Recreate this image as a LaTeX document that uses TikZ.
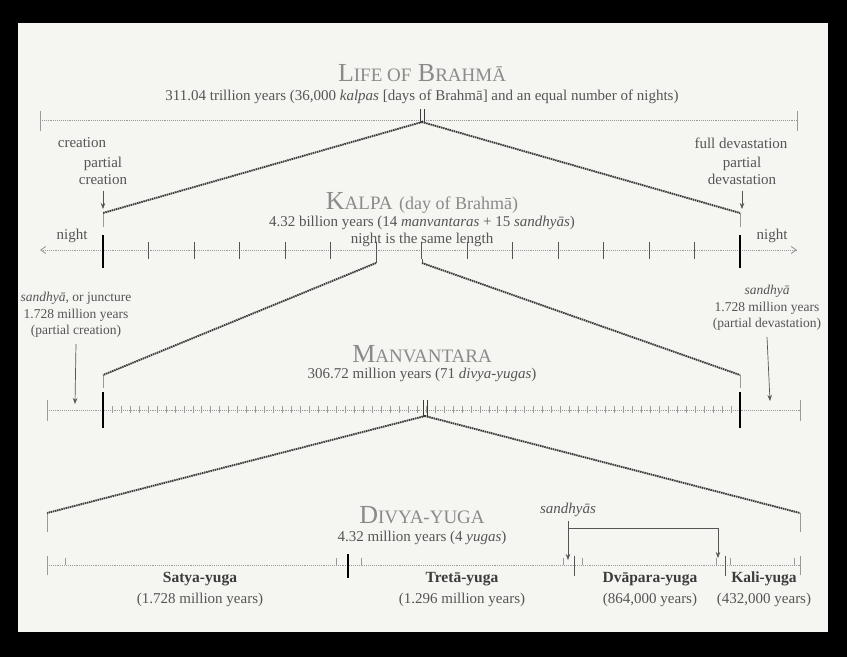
\documentclass[tikz,border=0pt]{standalone}
\usepackage{fontspec}
\setmainfont{Liberation Serif}
\usetikzlibrary{arrows.meta}
\definecolor{page}{HTML}{F5F5F2}
\definecolor{ink}{HTML}{555555}
\definecolor{ttlgray}{HTML}{8A8A8A}
\definecolor{axgray}{HTML}{9A9A9A}
\definecolor{brkgray}{HTML}{3C3C3C}
\newcommand{\lowcap}[1]{{\fontsize{19}{19}\selectfont #1}}
\begin{document}
\begin{tikzpicture}[x=1pt,y=-1pt,
    lbl/.style={text=ink,font=\fontsize{15}{16.5}\selectfont,inner sep=0pt},
    side/.style={text=ink,font=\fontsize{13.5}{16.5}\selectfont,inner sep=0pt,align=center},
    yuga/.style={text=brkgray,font=\fontsize{15.5}{17}\selectfont\bfseries,inner sep=0pt},
    ttl/.style={text=ttlgray,font=\fontsize{26}{27}\selectfont,inner sep=0pt},
    axis/.style={draw=axgray,line width=0.9pt,densely dotted},
    brk/.style={draw=brkgray,line width=1.9pt,dash pattern=on 1.5pt off 0.7pt},
    bar/.style={draw=black,line width=2.6pt},
    tk/.style={draw=axgray,line width=0.9pt},
    pnt/.style={draw=ink,line width=0.7pt,-{Stealth[length=6pt,width=4.5pt]}}]
  \fill[black] (0,0) rectangle (847,657);
  \fill[page] (18,23) rectangle (828,632);

  \draw
    (422,73) node[ttl] (life) {L\lowcap{IFE OF} B\lowcap{RAHMĀ}}
    (422,97) node[lbl] (lifenum) {311.04 trillion years (36,000 \emph{kalpas} [days of Brahmā] and an equal number of nights)}
    (82,143) node[lbl] (creat) {creation}
    (741,143) node[lbl] (fulldev) {full devastation}
    (103,171) node[lbl,align=center] (pcre) {partial\\creation}
    (742,171) node[lbl,align=center] (pdev) {partial\\devastation}
    (422,203) node[ttl] (kalpa) {K\lowcap{ALPA} {\fontsize{18}{18}\selectfont(day of Brahmā)}}
    (422,223) node[lbl] (kalpanum) {4.32 billion years (14 \emph{manvantaras} + 15 \emph{sandhyās})}
    (422,240) node[lbl] (kalpanight) {night is the same length}
    (72,236) node[lbl] (nightl) {night}
    (772,236) node[lbl] (nightr) {night}
    (76,315) node[side] (sandl) {\emph{sandhyā}, or juncture\\1.728 million years\\(partial creation)}
    (767,308) node[side] (sandr) {\emph{sandhyā}\\1.728 million years\\(partial devastation)}
    (422,354) node[ttl] (manv) {M\lowcap{ANVANTARA}}
    (422,375) node[lbl] (manvnum) {306.72 million years (71 \emph{divya-yugas})}
    (422,515) node[ttl] (divya) {D\lowcap{IVYA-YUGA}}
    (422,538) node[lbl] (divyanum) {4.32 million years (4 \emph{yugas})}
    (568,510) node[lbl] (sandy) {\emph{sandhyās}}
    (200,579) node[yuga] (satya) {Satya-yuga}
    (200,600) node[lbl] (satyanum) {(1.728 million years)}
    (462,579) node[yuga] (treta) {Tretā-yuga}
    (462,600) node[lbl] (tretanum) {(1.296 million years)}
    (650,579) node[yuga] (dvapara) {Dvāpara-yuga}
    (650,600) node[lbl] (dvaparanum) {(864,000 years)}
    (764,579) node[yuga] (kali) {Kali-yuga}
    (764,600) node[lbl] (kalinum) {(432,000 years)};

  \coordinate (lifeL) at (40,120);
  \coordinate (lifeR) at (797,120);
  \coordinate (lifeM) at (422,122);
  \coordinate (kalL) at (103,213);
  \coordinate (kalR) at (740,213);
  \coordinate (kalA) at (40,250);
  \coordinate (kalB) at (797,250);
  \coordinate (kalM1) at (376,263);
  \coordinate (kalM2) at (422,263);
  \coordinate (manL) at (103,375);
  \coordinate (manR) at (740,375);
  \coordinate (manA) at (47,410);
  \coordinate (manB) at (800,410);
  \coordinate (manM) at (425,416);
  \coordinate (divL) at (47,513);
  \coordinate (divR) at (800,513);
  \coordinate (divA) at (47,565);
  \coordinate (divB) at (800,565);

  \draw[axis] (lifeL) -- (lifeR);
  \draw[tk] (40,111) -- (40,131) (797,111) -- (797,131);
  \draw[draw=brkgray,line width=0.8pt] (420,109) -- (420,123) (424,109) -- (424,123);

  \draw[axis,{Straight Barb[length=5pt,width=7pt]}-{Straight Barb[length=5pt,width=7pt]}] (kalA) -- (kalB);
  \foreach \i in {1,...,13}
    \draw[draw=ink,line width=0.8pt] (103+45.5*\i,242) -- (103+45.5*\i,259);
  \draw[draw=ink,line width=0.8pt] (376,259) -- (kalM1) (422,259) -- (kalM2);
  \draw[bar] (103,235) -- (103,268) (740,235) -- (740,268);
  \draw[tk] (kalL) -- (103,227) (kalR) -- (740,227);

  \draw[axis] (manA) -- (manB);
  \foreach \i in {1,...,70}
    \draw[draw=axgray,line width=0.4pt] (103+8.97*\i,406) -- (103+8.97*\i,413);
  \draw[tk] (47,400) -- (47,421) (800,400) -- (800,421);
  \draw[draw=brkgray,line width=0.8pt] (423,400) -- (423,417) (427,400) -- (427,417);
  \draw[bar] (103,392) -- (103,428) (740,392) -- (740,428);
  \draw[tk] (manL) -- (103,388) (manR) -- (740,388);

  \draw[axis] (divA) -- (divB);
  \draw[tk] (47,556) -- (47,575) (800,556) -- (800,575) (divL) -- (47,532) (divR) -- (800,532);
  \foreach \x in {65,336,361,563,582,716,730,794}
    \draw[draw=axgray,line width=0.8pt] (\x,558) -- (\x,565);
  \draw[draw=black,line width=1.4pt] (348,554) -- (348,578);
  \draw[draw=ink,line width=1pt] (574,556) -- (574,576) (725,556) -- (725,576);

  \begin{scope}[brk]
    \draw (lifeM) -- (kalL);
    \draw (lifeM) -- (kalR);
    \draw (kalM1) -- (manL);
    \draw (kalM2) -- (manR);
    \draw (manM) -- (divL);
    \draw (manM) -- (divR);
  \end{scope}

  \begin{scope}[pnt]
    \draw (pcre.south) ++(0,6) -- (103,209);
    \draw (pdev.south) ++(0,6) -- (742,209);
    \draw (sandl.south) ++(0,6) -- (75,404);
    \draw (sandr.south) ++(0,6) -- (770,401);
    \draw (sandy.south) ++(0,4) -- (568,560);
    \draw (568,528) -| (718,558);
  \end{scope}
\end{tikzpicture}
\end{document}
